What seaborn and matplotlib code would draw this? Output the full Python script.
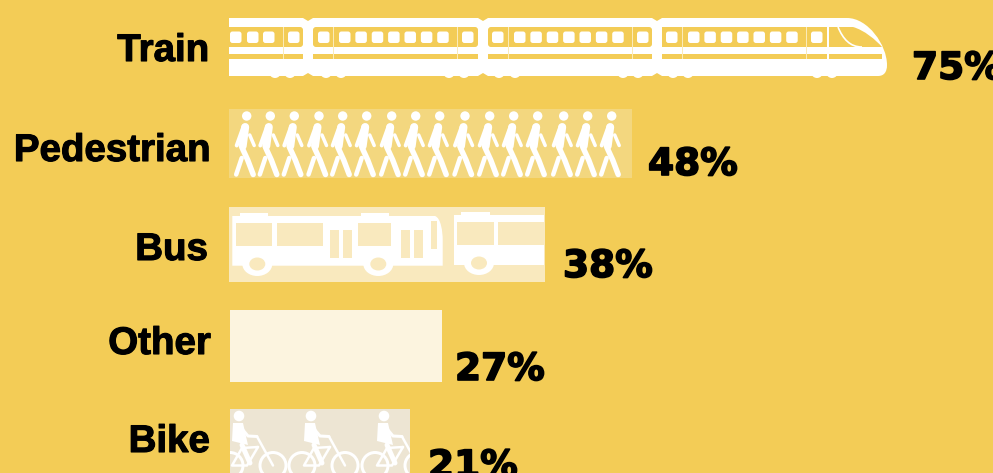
import matplotlib
matplotlib.use("Agg")
import matplotlib.patheffects as pe
import matplotlib.pyplot as plt
import pandas as pd
import seaborn as sns
from matplotlib.patches import Circle, Ellipse, FancyBboxPatch, PathPatch, Polygon, Rectangle
from matplotlib.path import Path

modes = ["Train", "Pedestrian", "Bus", "Other", "Bike"]
shares = [75, 48, 38, 27, 21]
bar_lengths = [658, 403, 316, 212, 180]  # drawn lengths, not quite proportional to the shares

# layout, in pixels of the picture
bar_left = [229, 229, 229, 230, 230]
bar_top = [18, 109, 207, 310, 409]
bar_bottom = [76, 178, 282, 382, 490]
label_right = [209, 211, 208, 211, 210]
label_base = [61, 161, 260, 354, 452]
share_left = [912, 648, 563, 455, 428]
share_base = [79, 175, 277, 380, 477]

BG = "#F3CC56"
WHITE = "#FFFFFF"
bar_colors = [BG, "#F3D77F", "#F9E9BE", "#FCF4DF", "#EDE5D3"]

walker_x = [246.7, 270.3, 294.3, 319, 342.7, 366.7, 391.7, 415.7,
            439.7, 465, 489.7, 513.7, 537.7, 563.7, 587.7, 611.7]
cyclist_x = [239, 311, 384]


def rect(ax, x0, y0, x1, y1, color, **kw):
    p = Rectangle((x0, y0), x1 - x0, y1 - y0, fc=color, ec="none", **kw)
    ax.add_patch(p)
    return p


def stroke(ax, xs, ys, lw, clip=None):
    line, = ax.plot(xs, ys, color=WHITE, lw=lw * 0.72, solid_capstyle="round", solid_joinstyle="round")
    if clip is not None:
        line.set_clip_path(clip)


def draw_train(ax):
    M, L, C, Z = Path.MOVETO, Path.LINETO, Path.CURVE4, Path.CLOSEPOLY
    verts = [(229, 18), (847, 18), (868, 18), (887, 45), (887, 65), (887, 72), (884, 76),
             (878, 76), (229, 76), (229, 18)]
    codes = [M, L, C, C, C, C, C, C, L, Z]
    ax.add_patch(PathPatch(Path(verts, codes), fc=WHITE, ec="none"))
    # window band and thin stripe of each car
    for x0, x1 in [(229, 303), (313, 478), (488, 652)]:
        ax.add_patch(FancyBboxPatch((x0 + 2, 29), x1 - x0 - 4, 16, boxstyle="round,pad=2,rounding_size=3",
                                    fc=BG, ec="none"))
        rect(ax, x0, 54, x1, 59, BG)
    rect(ax, 229, 27, 235, 47, BG)
    verts = [(662, 27), (853, 27), (864, 30), (876, 40), (882, 47), (662, 47), (662, 27)]
    ax.add_patch(PathPatch(Path(verts, [M, L, C, C, C, L, Z]), fc=BG, ec="none"))
    rect(ax, 662, 54, 882, 59, BG)
    # notches where the cars meet
    for x in [308, 483, 657]:
        ax.add_patch(Polygon([(x - 5, 18), (x + 5, 18), (x, 21)], fc=BG, ec="none"))
        ax.add_patch(Polygon([(x - 5, 76), (x + 5, 76), (x, 73)], fc=BG, ec="none"))
    # windscreen pillar and cab door
    verts = [(838, 27), (843, 39), (850, 47), (862, 47)]
    ax.add_patch(PathPatch(Path(verts, [M, C, C, C]), fc="none", ec=WHITE, lw=1.2))
    rect(ax, 827, 27, 829, 59, WHITE)
    # windows
    first = [230, 247, 263]
    for s in [339, 514, 688]:
        first += [s + i * 16.37 for i in range(7)]
    doors = [288, 318, 462, 492, 637, 666, 811]
    for x in first + doors:
        ax.add_patch(FancyBboxPatch((x + 1, 32.5), 9.5, 9.5, boxstyle="round,pad=1,rounding_size=2.5",
                                    fc=WHITE, ec="none"))
    for x in [283, 333, 457, 508, 632, 682, 806]:
        rect(ax, x, 27, x + 0.7, 59, "#FBEBB8")
    for x in [275, 290, 326, 341, 449, 464, 499, 515, 623, 638, 673, 688, 817, 832]:
        ax.add_patch(Ellipse((x, 73), 11, 10, fc=WHITE, ec="none"))


def draw_walker(ax, x):
    ax.add_patch(Circle((x, 116), 4.7, fc=WHITE, ec="none"))
    stroke(ax, [x - 1.5, x - 4], [127, 146], 8)                # torso
    stroke(ax, [x - 3, x - 10], [126, 145.5], 4)               # near arm
    stroke(ax, [x + 3, x + 7.5], [135, 145.5], 3.5)            # far arm
    stroke(ax, [x - 4.5, x + 1, x + 6.5], [148, 160, 174.5], 5.5)  # front leg
    stroke(ax, [x - 5, x - 10.5], [158, 174.5], 4.5)           # back leg


def draw_bus(ax, bar):
    col = bar_colors[2]
    M, L, C, Z = Path.MOVETO, Path.LINETO, Path.CURVE4, Path.CLOSEPOLY
    verts = [(232.3, 216), (435, 216), (441, 218), (442.7, 232), (442.7, 240), (442.7, 265.7), (232.3, 265.7), (232.3, 216)]
    ax.add_patch(PathPatch(Path(verts, [M, L, C, C, C, L, L, Z]), fc=WHITE, ec="none"))
    rect(ax, 240, 212.7, 268, 216, WHITE)
    rect(ax, 360.7, 212.7, 389, 216, WHITE)
    for x0, x1 in [(235.7, 272.3), (277.3, 323), (358, 390.7)]:
        rect(ax, x0, 223, x1, 246, col)
    for x0, x1 in [(330, 339), (343, 352), (401, 410), (414, 423)]:
        rect(ax, x0, 230, x1, 258, col)
    rect(ax, 430.7, 221, 437, 249.3, col)
    # second bus runs off the end of the bar
    rect(ax, 454, 215, 544, 264.7, WHITE)
    rect(ax, 461, 211.7, 490, 215, WHITE)
    rect(ax, 457, 222, 494, 245, col)
    rect(ax, 498.3, 222, 544, 245, col)
    for x, y in [(257.3, 264), (378.3, 264), (479, 263)]:
        ax.add_patch(Ellipse((x, y), 30, 24, fc=WHITE, ec="none"))
        ax.add_patch(Ellipse((x, y), 16, 13, fc=col, ec="none"))


def draw_cyclist(ax, x, bar):
    head = Circle((x, 416), 5.3, fc=WHITE, ec="none")
    ax.add_patch(head)
    head.set_clip_path(bar)
    for dx in [-9, 34]:
        wheel = Circle((x + dx, 465.5), 13, fc="none", ec=WHITE, lw=3 * 0.72)
        ax.add_patch(wheel)
        wheel.set_clip_path(bar)
    torso = Polygon([(x - 6, 423), (x + 4, 423), (x + 9, 445), (x - 7, 441)], fc=WHITE, ec="none")
    ax.add_patch(torso)
    torso.set_clip_path(bar)
    stroke(ax, [x + 4, x + 9, x + 18], [430, 436, 436.5], 3, bar)     # arm
    stroke(ax, [x + 3, x + 11], [445, 463], 5, bar)                   # leg
    stroke(ax, [x + 18, x + 34], [436.5, 465.5], 2.5, bar)            # fork
    stroke(ax, [x + 19, x + 8, x - 7, x + 3, x + 19], [447, 465.5, 465.5, 448, 447], 2.5, bar)  # frame


df = pd.DataFrame({"mode": modes, "length": bar_lengths,
                   "center": [(t + b) / 2 for t, b in zip(bar_top, bar_bottom)]})

sns.set_theme(style="white")
fig = plt.figure(figsize=(9.93, 4.73), dpi=100, facecolor=BG)
ax = fig.add_axes([0, 0, 1, 1])
ax.set_facecolor(BG)
sns.barplot(data=df, x="length", y="center", hue="mode", hue_order=modes, palette=bar_colors,
            orient="h", native_scale=True, dodge=False, saturation=1, legend=False, linewidth=0, ax=ax)

bars = list(ax.patches)
for p, left, top, bottom in zip(bars, bar_left, bar_top, bar_bottom):
    p.set_x(left)
    p.set_y(top)
    p.set_height(bottom - top)

ax.set_xlim(0, 993)
ax.set_ylim(473, 0)
ax.axis("off")

draw_train(ax)
for x in walker_x:
    draw_walker(ax, x)
draw_bus(ax, bars[2])
for x in cyclist_x:
    draw_cyclist(ax, x, bars[4])

for mode, share, right, base, left, sbase in zip(modes, shares, label_right, label_base, share_left, share_base):
    t = ax.text(right, base, mode, family="Liberation Sans", fontweight="bold", fontsize=27.7,
                color="black", ha="right", va="baseline")
    t.set_path_effects([pe.withStroke(linewidth=0.8, foreground="black")])
    t = ax.text(left, sbase, f"{share}%", family="DejaVu Sans", fontweight="bold", fontsize=27,
                color="black", ha="left", va="baseline")
    t.set_path_effects([pe.withStroke(linewidth=1.2, foreground="black")])

fig.savefig("out.png", dpi=100, facecolor=BG)
